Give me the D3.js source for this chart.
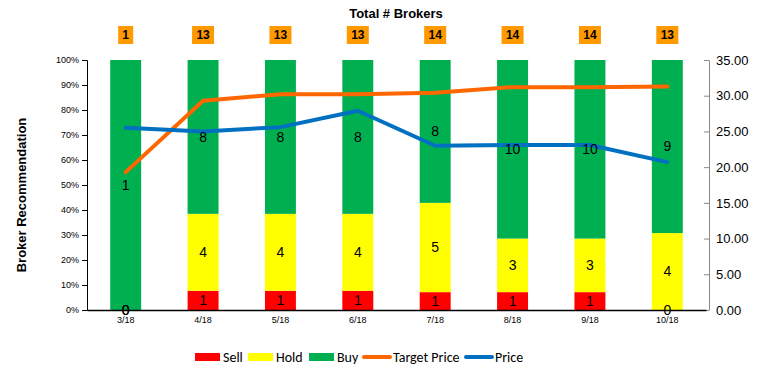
<!DOCTYPE html>
<html lang="en">
<head>
    <meta charset="UTF-8">
    <title>Broker Recommendation</title>
    <script src="https://d3js.org/d3.v7.min.js"></script>
    <style>
        body { margin: 0; background: #fff; }
        text { font-family: Arial, "Liberation Sans", sans-serif; }
        .tick text { fill: #000; }
        .seg-label { font-size: 14px; fill: #000; }
        .legend text { font-family: Carlito, "Liberation Sans", Arial, sans-serif; font-size: 14px; }
    </style>
</head>
<body>
    <script>
        const months = ["3/18", "4/18", "5/18", "6/18", "7/18", "8/18", "9/18", "10/18"];
        const sell = [0, 1, 1, 1, 1, 1, 1, 0];
        const hold = [0, 4, 4, 4, 5, 3, 3, 4];
        const buy = [1, 8, 8, 8, 8, 10, 10, 9];
        const targetPrice = [19.3, 29.3, 30.2, 30.2, 30.4, 31.2, 31.2, 31.3];
        const price = [25.5, 25.0, 25.6, 27.9, 23.0, 23.1, 23.1, 20.7];
        const pctTicks = [0, 0.1, 0.2, 0.3, 0.4, 0.5, 0.6, 0.7, 0.8, 0.9, 1];
        const priceTicks = [0, 5, 10, 15, 20, 25, 30, 35];

        const width = 769, height = 388;
        const plotLeft = 87, plotRight = 706, plotTop = 60, plotBottom = 310;

        const svg = d3.select("body").append("svg")
            .attr("width", width)
            .attr("height", height);

        const x = d3.scaleBand().domain(months).range([plotLeft, plotRight]).paddingInner(0.6).paddingOuter(0.3);
        const y = d3.scaleLinear().domain([0, 1]).range([plotBottom, plotTop]);
        const y2 = d3.scaleLinear().domain([0, 35]).range([plotBottom, plotTop]);

        // stacked bars as share of total
        const rows = months.map((m, i) => ({ month: m, Sell: sell[i], Hold: hold[i], Buy: buy[i] }));
        const keys = ["Sell", "Hold", "Buy"];
        const colors = { Sell: "#FF0000", Hold: "#FFFF00", Buy: "#00B050" };
        const stack = d3.stack().keys(keys).offset(d3.stackOffsetExpand)(rows);

        const layer = svg.selectAll("g.layer")
            .data(stack)
            .enter().append("g")
            .attr("class", "layer")
            .attr("fill", d => colors[d.key]);

        layer.selectAll("rect")
            .data(d => d)
            .enter().append("rect")
            .attr("x", d => x(d.data.month))
            .attr("y", d => y(d[1]))
            .attr("width", x.bandwidth())
            .attr("height", d => y(d[0]) - y(d[1]));

        // axes
        svg.append("g")
            .attr("transform", `translate(${plotLeft},0)`)
            .call(d3.axisLeft(y).tickValues(pctTicks).tickFormat(d3.format(".0%")).tickSize(5).tickPadding(3))
            .call(g => g.selectAll("text").style("font-size", "9px"))
            .call(g => g.select(".domain").attr("stroke", "#000"));

        svg.append("g")
            .attr("transform", `translate(${plotRight + 3},0)`)
            .call(d3.axisRight(y2).tickValues(priceTicks).tickFormat(d3.format(".2f")).tickSize(0).tickPadding(7))
            .call(g => g.selectAll("text").style("font-size", "13px").attr("fill", "#000"))
            .call(g => g.select(".domain").attr("stroke", "#888"))
            .call(g => g.selectAll(".tick line").attr("x1", -5).attr("x2", 0).attr("stroke", "#888"));

        svg.append("g")
            .attr("transform", `translate(0,${plotBottom})`)
            .call(d3.axisBottom(x).tickSize(0).tickPadding(7))
            .call(g => g.selectAll("text").style("font-size", "9px"))
            .call(g => g.select(".domain").attr("stroke", "#000").attr("stroke-width", 1.5));

        // lines
        const line = d3.line()
            .x((d, i) => x(months[i]) + x.bandwidth() / 2)
            .y(d => y2(d));

        svg.append("path").datum(targetPrice)
            .attr("fill", "none").attr("stroke", "#FF6600").attr("stroke-width", 4)
            .attr("stroke-linejoin", "round").attr("stroke-linecap", "round")
            .attr("d", line);

        svg.append("path").datum(price)
            .attr("fill", "none").attr("stroke", "#0070C0").attr("stroke-width", 4)
            .attr("stroke-linejoin", "round").attr("stroke-linecap", "round")
            .attr("d", line);

        // segment labels
        stack.forEach(s => {
            svg.append("g").selectAll("text")
                .data(s)
                .enter().append("text")
                .attr("class", "seg-label")
                .attr("x", d => x(d.data.month) + x.bandwidth() / 2)
                .attr("y", d => (y(d[0]) + y(d[1])) / 2)
                .attr("dy", "0.35em")
                .attr("text-anchor", "middle")
                .text(d => d.data[s.key]);
        });

        // total brokers row
        svg.append("text")
            .attr("x", 396).attr("y", 18)
            .attr("text-anchor", "middle")
            .style("font-size", "13px").style("font-weight", "bold")
            .text("Total # Brokers");

        const totals = months.map((m, i) => sell[i] + hold[i] + buy[i]);
        const tot = svg.append("g").selectAll("g")
            .data(totals)
            .enter().append("g")
            .attr("transform", (d, i) => `translate(${x(months[i]) + x.bandwidth() / 2},35)`);
        tot.append("rect")
            .attr("x", d => String(d).length > 1 ? -11 : -7.5)
            .attr("y", -9)
            .attr("width", d => String(d).length > 1 ? 22 : 15)
            .attr("height", 18)
            .attr("fill", "#FF9900");
        tot.append("text")
            .attr("text-anchor", "middle")
            .attr("dy", "0.36em")
            .style("font-size", "12px").style("font-weight", "bold")
            .text(d => d);

        // y axis title
        svg.append("text")
            .attr("transform", `translate(26,${(plotTop + plotBottom) / 2 + 10}) rotate(-90)`)
            .attr("text-anchor", "middle")
            .style("font-size", "13px").style("font-weight", "bold")
            .text("Broker Recommendation");

        // legend
        const legendItems = [
            { name: "Sell", color: "#FF0000", type: "rect", x: 195 },
            { name: "Hold", color: "#FFFF00", type: "rect", x: 248 },
            { name: "Buy", color: "#00B050", type: "rect", x: 309 },
            { name: "Target Price", color: "#FF6600", type: "line", x: 363 },
            { name: "Price", color: "#0070C0", type: "line", x: 465 }
        ];
        const lg = svg.append("g").attr("class", "legend")
            .selectAll("g").data(legendItems).enter().append("g")
            .attr("transform", d => `translate(${d.x},357)`);
        lg.filter(d => d.type === "rect").append("rect")
            .attr("x", 0).attr("y", -4).attr("width", 25).attr("height", 8)
            .attr("fill", d => d.color);
        lg.filter(d => d.type === "line").append("line")
            .attr("x1", 1).attr("x2", 27).attr("y1", 0).attr("y2", 0)
            .attr("stroke", d => d.color).attr("stroke-width", 4).attr("stroke-linecap", "round");
        lg.append("text")
            .attr("x", d => d.type === "rect" ? 28 : 30)
            .attr("dy", "0.35em")
            .text(d => d.name);
    </script>
</body>
</html>
